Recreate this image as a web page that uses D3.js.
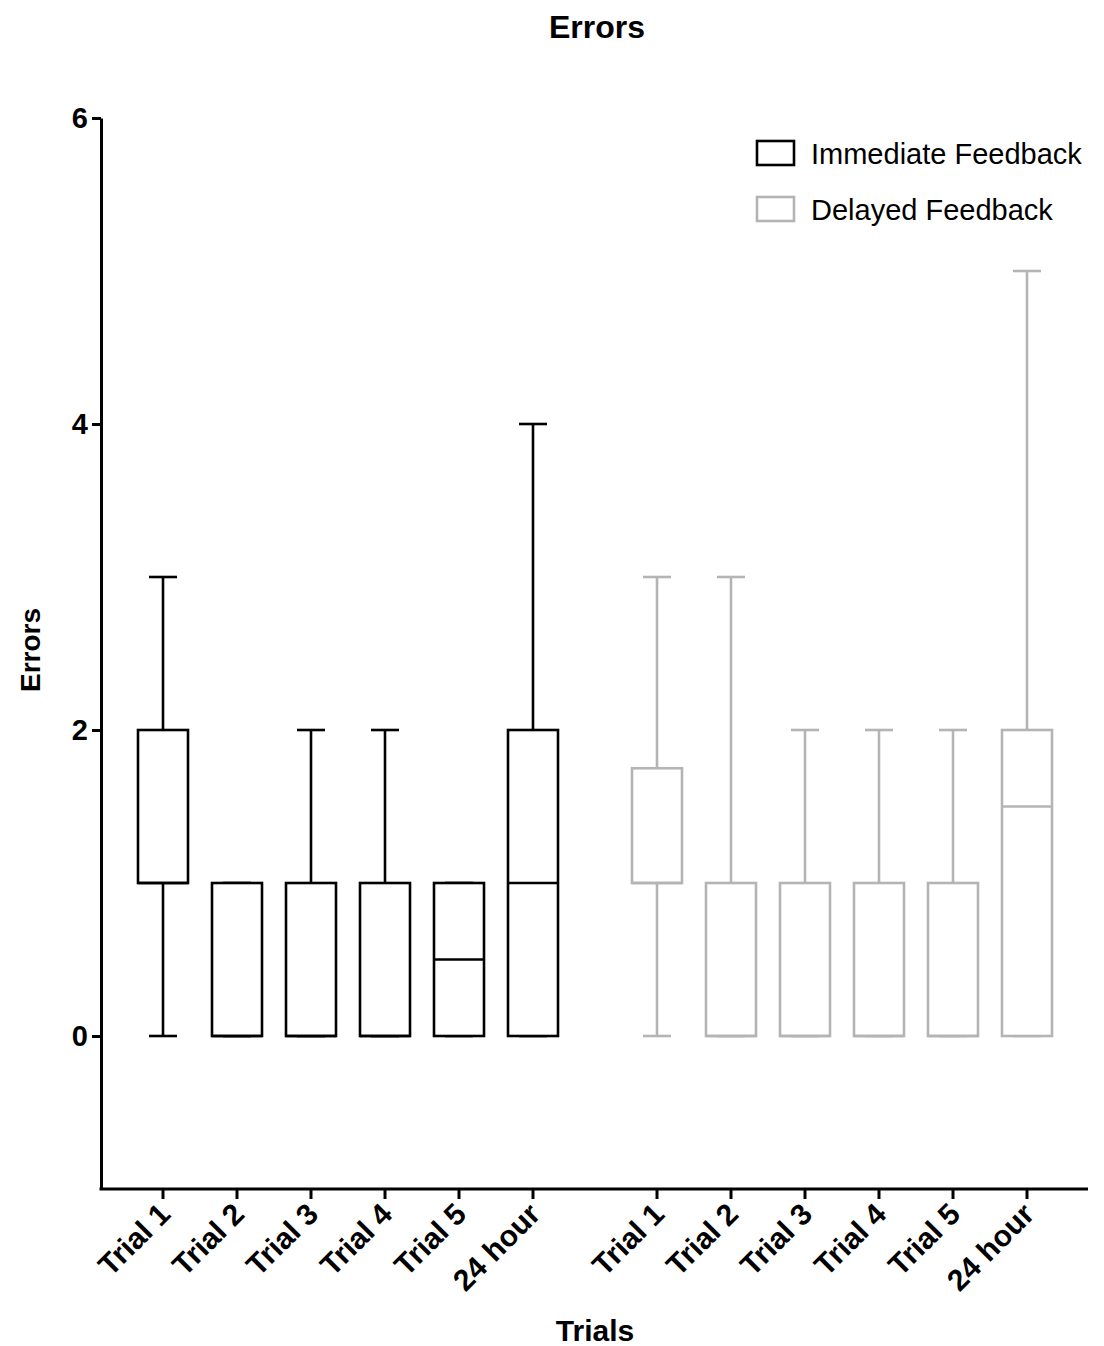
<!DOCTYPE html>
<html>
<head>
<meta charset="utf-8">
<script src="https://cdn.jsdelivr.net/npm/d3@7"></script>
<style>
  body { margin: 0; background: #fff; }
  svg text { font-family: "Liberation Sans", Arial, sans-serif; }
</style>
</head>
<body>
<svg id="chart" width="1104" height="1346"></svg>
<script>
// data
var trials = ["Trial 1", "Trial 2", "Trial 3", "Trial 4", "Trial 5", "24 hour"];
var groups = ["Immediate Feedback", "Delayed Feedback"];
var groupColors = ["#000000", "#b4b4b4"];

var immMin = [0, 0, 0, 0, 0, 0];
var immQ1 = [1, 0, 0, 0, 0, 0];
var immMed = [1, 0, 0, 0, 0.5, 1];
var immQ3 = [2, 1, 1, 1, 1, 2];
var immMax = [3, 1, 2, 2, 1, 4];

var delMin = [0, 0, 0, 0, 0, 0];
var delQ1 = [1, 0, 0, 0, 0, 0];
var delMed = [1, 0, 0, 0, 0, 1.5];
var delQ3 = [1.75, 1, 1, 1, 1, 2];
var delMax = [3, 3, 2, 2, 2, 5];

var yTicks = [0, 2, 4, 6];

var svg = d3.select("#chart");

var plotLeft = 101, plotRight = 1088, plotTop = 118, plotBottom = 1189;

var y = d3.scaleLinear().domain([-1, 6]).range([plotBottom, plotTop]);
var xGroup = d3.scalePoint().domain(groups).range([348, 842]);
var xInner = d3.scalePoint().domain(trials).range([-185, 185]);

var boxWidth = 50;
var capWidth = 28;

function makeRows(g, mins, q1s, meds, q3s, maxs) {
    return trials.map(function (t, i) {
        return { group: g, trial: t, min: mins[i], q1: q1s[i], med: meds[i], q3: q3s[i], max: maxs[i] };
    });
}

var rows = makeRows(groups[0], immMin, immQ1, immMed, immQ3, immMax)
    .concat(makeRows(groups[1], delMin, delQ1, delMed, delQ3, delMax));

function xPos(d) { return xGroup(d.group) + xInner(d.trial); }
function color(d) { return groupColors[groups.indexOf(d.group)]; }

// title
svg.append("text")
    .attr("x", 597).attr("y", 38)
    .attr("text-anchor", "middle")
    .style("font-size", "32px").style("font-weight", "bold")
    .text("Errors");

// y axis
var yAxis = svg.append("g")
    .attr("transform", "translate(" + plotLeft + ",0)")
    .call(d3.axisLeft(y).tickValues(yTicks).tickFormat(d3.format("d"))
        .tickSize(9).tickSizeOuter(0).tickPadding(4));
yAxis.select(".domain").attr("stroke-width", 3);
yAxis.selectAll(".tick line").attr("stroke-width", 3);
yAxis.selectAll(".tick text")
    .style("font-size", "29px").style("font-weight", "bold")
    .attr("fill", "#000");

svg.append("text")
    .attr("transform", "translate(40,650) rotate(-90)")
    .attr("text-anchor", "middle")
    .style("font-size", "28px").style("font-weight", "bold")
    .text("Errors");

// x axis
svg.append("line")
    .attr("x1", plotLeft - 1.5).attr("x2", plotRight)
    .attr("y1", plotBottom).attr("y2", plotBottom)
    .attr("stroke", "#000").attr("stroke-width", 3);

var xTicks = svg.append("g").selectAll("g")
    .data(rows)
    .enter()
    .append("g")
    .attr("transform", function (d) { return "translate(" + xPos(d) + "," + plotBottom + ")"; });

xTicks.append("line")
    .attr("y1", 0).attr("y2", 10)
    .attr("stroke", "#000").attr("stroke-width", 3);

xTicks.append("text")
    .attr("transform", "translate(-6,12) rotate(-45)")
    .attr("text-anchor", "end")
    .attr("dy", "0.71em")
    .style("font-size", "30px").style("font-weight", "bold")
    .text(function (d) { return d.trial; });

svg.append("text")
    .attr("x", 595).attr("y", 1341)
    .attr("text-anchor", "middle")
    .style("font-size", "30px").style("font-weight", "bold")
    .text("Trials");

// boxes
var boxes = svg.append("g").selectAll("g")
    .data(rows)
    .enter()
    .append("g")
    .attr("stroke", color)
    .attr("stroke-width", 2.6)
    .attr("fill", "none");

// upper whisker
boxes.append("line")
    .attr("x1", xPos).attr("x2", xPos)
    .attr("y1", function (d) { return y(d.q3); })
    .attr("y2", function (d) { return y(d.max); });
boxes.append("line")
    .attr("x1", function (d) { return xPos(d) - capWidth / 2; })
    .attr("x2", function (d) { return xPos(d) + capWidth / 2; })
    .attr("y1", function (d) { return y(d.max); })
    .attr("y2", function (d) { return y(d.max); });

// lower whisker
boxes.append("line")
    .attr("x1", xPos).attr("x2", xPos)
    .attr("y1", function (d) { return y(d.q1); })
    .attr("y2", function (d) { return y(d.min); });
boxes.append("line")
    .attr("x1", function (d) { return xPos(d) - capWidth / 2; })
    .attr("x2", function (d) { return xPos(d) + capWidth / 2; })
    .attr("y1", function (d) { return y(d.min); })
    .attr("y2", function (d) { return y(d.min); });

boxes.append("rect")
    .attr("x", function (d) { return xPos(d) - boxWidth / 2; })
    .attr("y", function (d) { return y(d.q3); })
    .attr("width", boxWidth)
    .attr("height", function (d) { return y(d.q1) - y(d.q3); })
    .attr("fill", "#fff");

boxes.append("line")
    .attr("x1", function (d) { return xPos(d) - boxWidth / 2; })
    .attr("x2", function (d) { return xPos(d) + boxWidth / 2; })
    .attr("y1", function (d) { return y(d.med); })
    .attr("y2", function (d) { return y(d.med); });

// legend
var legend = svg.append("g").selectAll("g")
    .data(groups)
    .enter()
    .append("g")
    .attr("transform", function (d, i) { return "translate(757," + (141 + i * 56) + ")"; });

legend.append("rect")
    .attr("width", 37).attr("height", 24)
    .attr("fill", "#fff")
    .attr("stroke", function (d, i) { return groupColors[i]; })
    .attr("stroke-width", 2.6);

legend.append("text")
    .attr("x", 54).attr("y", 13)
    .attr("dy", "0.36em")
    .style("font-size", "29px")
    .text(function (d) { return d; });
</script>
</body>
</html>
